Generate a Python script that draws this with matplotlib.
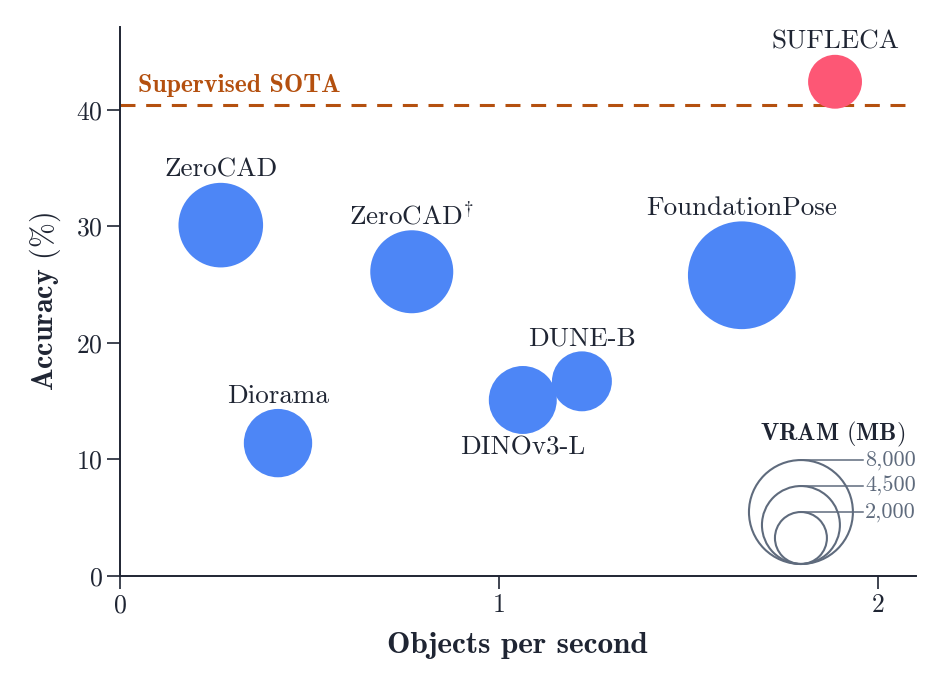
import numpy as np
import matplotlib
matplotlib.use('Agg')
import matplotlib.pyplot as plt
from matplotlib.transforms import offset_copy

plt.rcParams['font.family'] = 'cmr10'
plt.rcParams['mathtext.fontset'] = 'cm'
plt.rcParams['axes.unicode_minus'] = False
plt.rcParams['axes.formatter.use_mathtext'] = True

# data
methods = ['ZeroCAD', r'$\mathrm{ZeroCAD}^{\dagger}$', 'Diorama', 'DINOv3-L', 'DUNE-B', 'FoundationPose', 'SUFLECA']
obj_per_sec = [0.266, 0.77, 0.417, 1.063, 1.219, 1.641, 1.887]
accuracy = [30.1, 26.1, 11.4, 15.1, 16.7, 25.8, 42.4]
vram_mb = [5300, 5100, 3460, 3420, 2660, 8600, 2150]
label_below = [False, False, False, True, False, False, False]
is_ours = [False, False, False, False, False, False, True]

sota_acc = 40.4
legend_vram = [8000, 4500, 2000]
legend_labels = ['8,000', '4,500', '2,000']

blue = '#4d86f6'
red = '#fd5775'
orange = '#b4500f'
ink = '#1f2533'
slate = '#5f6b7d'

size_k = 0.70  # marker area (pt^2) per MB

fig = plt.figure(figsize=(9.47, 6.88), dpi=100)
ax = fig.add_axes([0.1267, 0.1628, 0.8403, 0.798])

colors = [red if o else blue for o in is_ours]
sizes = [v * size_k for v in vram_mb]
ax.scatter(obj_per_sec, accuracy, s=sizes, c=colors, linewidths=0, zorder=3)

for name, x, y, v, below in zip(methods, obj_per_sec, accuracy, vram_mb, label_below):
    r_pt = np.sqrt(v * size_k) / 2
    if below:
        ax.annotate(name, (x, y), xytext=(0, -(r_pt + 1)), textcoords='offset points',
                    ha='center', va='top', fontsize=19.5, color=ink)
    else:
        ax.annotate(name, (x, y), xytext=(0, r_pt + 4.5), textcoords='offset points',
                    ha='center', va='baseline', fontsize=19.5, color=ink)

# supervised SOTA line
ax.axhline(sota_acc, xmin=0, xmax=1.0, color=orange, lw=2.2, linestyle=(0, (4.9, 3.5)), zorder=2)
ax.text(0.047, sota_acc + 1.1, 'Supervised SOTA', color=orange, fontsize=18.5,
        fontfamily='cmb10', ha='left', va='baseline')

# size legend
lx, ly = 1.797, 1.03
tx = 1.962
for v, lab in zip(legend_vram, legend_labels):
    r_pt = np.sqrt(v * size_k) / 2
    tr_c = offset_copy(ax.transData, fig=fig, x=0, y=r_pt, units='points')
    ax.scatter([lx], [ly], s=v * size_k, facecolors='none', edgecolors=slate,
               linewidths=1.5, transform=tr_c, zorder=4, clip_on=False)
    tr_t = offset_copy(ax.transData, fig=fig, x=0, y=2 * r_pt, units='points')
    ax.plot([lx, tx], [ly, ly], color=slate, lw=1.1, transform=tr_t, zorder=4)
    ax.text(tx + 0.005, ly, lab, color=slate, fontsize=16, ha='left', va='center',
            transform=tr_t)
ax.text(1.881, 11.6, r'$\mathbf{VRAM}$ ($\mathbf{MB}$)', color=ink, fontsize=17.5,
        ha='center', va='baseline')

ax.set_xlim(0, 2.1)
ax.set_ylim(0, 47.1)
ax.set_xticks([0, 1, 2])
ax.set_yticks([0, 10, 20, 30, 40])

for s in ['top', 'right']:
    ax.spines[s].set_visible(False)
for s in ['left', 'bottom']:
    ax.spines[s].set_color(ink)
    ax.spines[s].set_linewidth(1.4)
ax.tick_params(length=9.5, width=1.2, color=ink, labelcolor=ink, labelsize=18.5, pad=3)

ax.set_xlabel('Objects per second', fontfamily='cmb10', fontsize=22.5, color=ink, labelpad=11)
ax.set_ylabel(r'$\mathbf{Accuracy}$ (%)', fontsize=21.5, color=ink, labelpad=9)

fig.savefig('out.png', dpi=100)
